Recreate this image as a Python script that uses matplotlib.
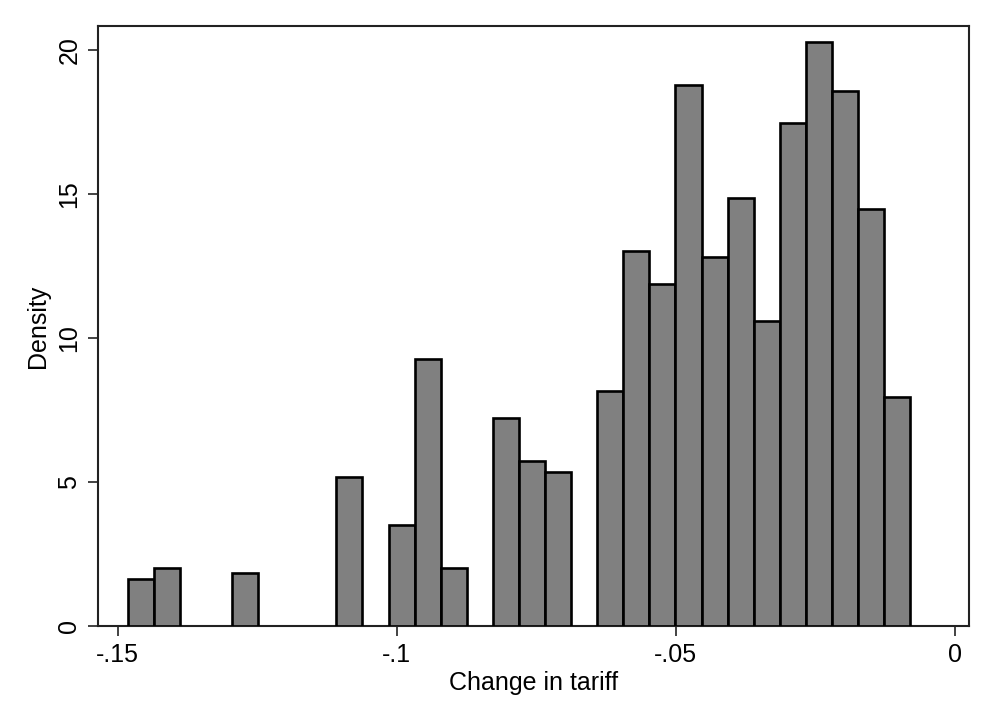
import numpy as np
import matplotlib
matplotlib.use("Agg")
import matplotlib.pyplot as plt

# Histogram data (density), 30 equal-width bins
bin_start = -0.14821
bin_width = 0.004673
density = [1.63, 2.00, 0.0, 0.0, 1.84, 0.0, 0.0, 0.0, 5.18, 0.0,
           3.50, 9.28, 2.00, 0.0, 7.22, 5.73, 5.36, 0.0, 8.15, 13.02,
           11.88, 18.78, 12.81, 14.86, 10.58, 17.48, 20.28, 18.59, 14.48, 7.96]

x_ticks = [-0.15, -0.1, -0.05, 0.0]
x_tick_labels = ["-.15", "-.1", "-.05", "0"]
y_ticks = [0, 5, 10, 15, 20]
y_tick_labels = ["0", "5", "10", "15", "20"]

plt.rcParams['font.family'] = ['Liberation Sans', 'DejaVu Sans']

fig = plt.figure(figsize=(9.96, 7.25), dpi=100)
W, H = 996, 725
ax = fig.add_axes([98 / W, 1 - 626 / H, (969 - 98) / W, (626 - 26) / H])

dens = np.array(density)
edges = bin_start + bin_width * np.arange(len(dens))
mask = dens > 0
ax.bar(edges[mask], dens[mask], width=bin_width, align='edge',
       color='#808080', edgecolor='black', linewidth=1.9, zorder=3)

ax.set_xlim(-0.15353, 0.00251)
ax.set_ylim(0, (626 - 26) / 28.8)

ax.set_xticks(x_ticks)
ax.set_xticklabels(x_tick_labels)
ax.set_yticks(y_ticks)
ax.set_yticklabels(y_tick_labels, rotation=90, va='center')

ax.tick_params(axis='both', direction='out', length=7, width=1.2,
               labelsize=18, color='#222222', pad=5)

for s in ax.spines.values():
    s.set_linewidth(1.5)
    s.set_color('#222222')

ax.set_xlabel("Change in tariff", fontsize=18, labelpad=3)
ax.set_ylabel("Density", fontsize=18, labelpad=5)

fig.savefig("out.png", dpi=100, facecolor='white')
